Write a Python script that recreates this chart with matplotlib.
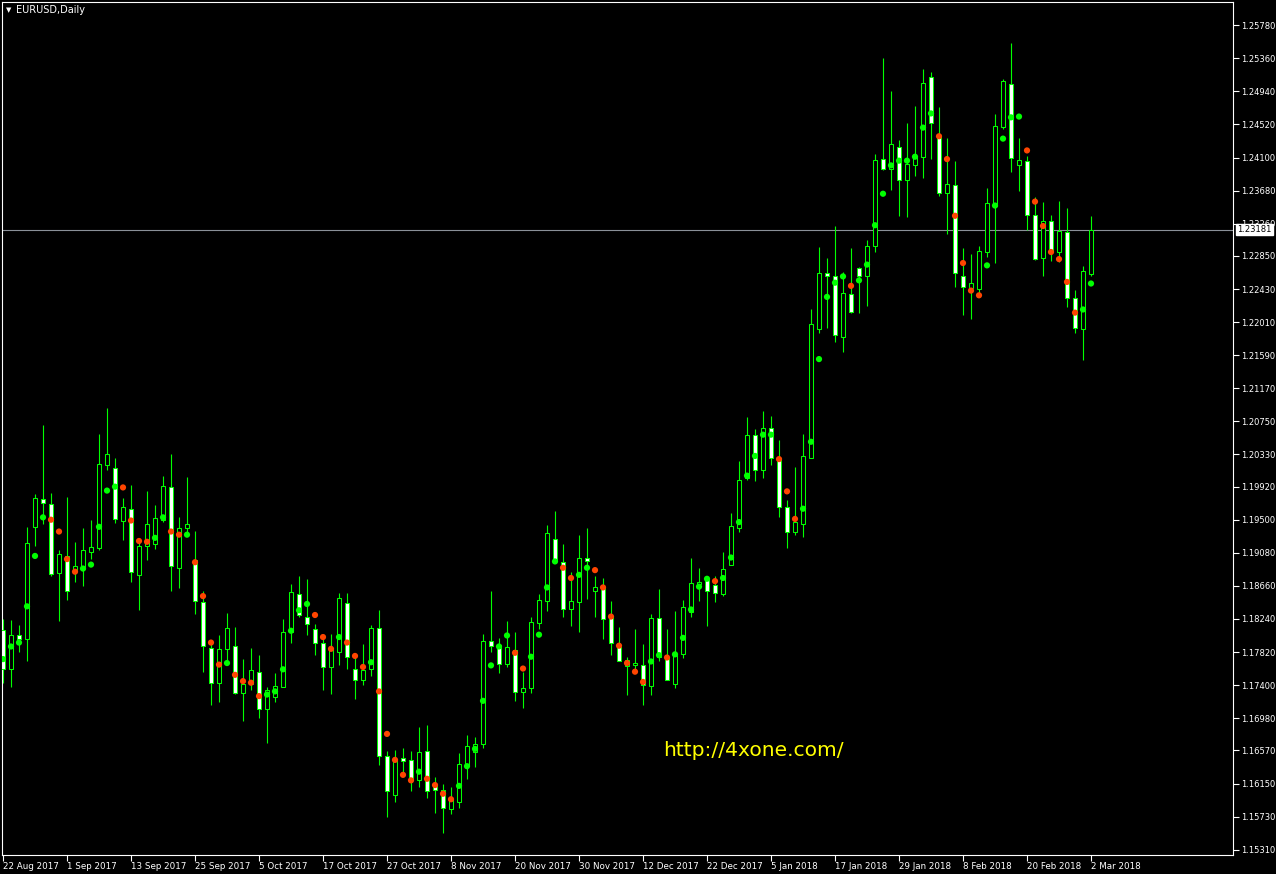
import numpy as np
import pandas as pd
import matplotlib
matplotlib.use("Agg")
import matplotlib.pyplot as plt

# ---------------- data ----------------
symbol_title = "EURUSD,Daily"
watermark = "http://4xone.com/"
last_price = 1.23181
price_ticks = [1.25780, 1.25360, 1.24940, 1.24520, 1.24100, 1.23680, 1.23260,
               1.22850, 1.22430, 1.22010, 1.21590, 1.21170, 1.20750, 1.20330,
               1.19920, 1.19500, 1.19080, 1.18660, 1.18240, 1.17820, 1.17400,
               1.16980, 1.16570, 1.16150, 1.15730, 1.15310]

dates = pd.bdate_range("2017-08-22", "2018-03-02")
dates = dates[~dates.isin(pd.to_datetime(["2017-12-25", "2018-01-01"]))]

opens = [1.1810, 1.1760, 1.1804, 1.1799, 1.1941, 1.1976, 1.1970, 1.1882, 1.1904, 1.1886,
         1.1887, 1.1909, 1.1914, 1.2019, 1.2016, 1.1949, 1.1964, 1.1880, 1.1916, 1.1919,
         1.1950, 1.1991, 1.1889, 1.1939, 1.1899, 1.1845, 1.1787, 1.1743, 1.1786, 1.1789,
         1.1730, 1.1742, 1.1757, 1.1709, 1.1725, 1.1738, 1.1808, 1.1856, 1.1827, 1.1811,
         1.1794, 1.1763, 1.1782, 1.1844, 1.1761, 1.1747, 1.1760, 1.1813, 1.1650, 1.1600,
         1.1648, 1.1645, 1.1619, 1.1656, 1.1612, 1.1607, 1.1583, 1.1592, 1.1637, 1.1655,
         1.1665, 1.1796, 1.1791, 1.1767, 1.1784, 1.1731, 1.1736, 1.1819, 1.1847, 1.1925,
         1.1896, 1.1837, 1.1845, 1.1901, 1.1860, 1.1863, 1.1827, 1.1788, 1.1764, 1.1765,
         1.1766, 1.1739, 1.1825, 1.1774, 1.1741, 1.1780, 1.1833, 1.1868, 1.1876, 1.1867,
         1.1856, 1.1893, 1.1940, 1.2003, 1.2057, 1.2013, 1.2066, 1.2029, 1.1966, 1.1935,
         1.1945, 1.2029, 1.2192, 1.2263, 1.2260, 1.2182, 1.2237, 1.2270, 1.2260, 1.2297,
         1.2408, 1.2395, 1.2423, 1.2381, 1.2401, 1.2411, 1.2512, 1.2437, 1.2365, 1.2375,
         1.2260, 1.2244, 1.2243, 1.2290, 1.2349, 1.2449, 1.2503, 1.2401, 1.2406, 1.2337,
         1.2282, 1.2329, 1.2290, 1.2315, 1.2231, 1.2192, 1.2262]

highs = [1.1824, 1.1823, 1.1816, 1.1941, 1.1983, 1.2070, 1.1984, 1.1911, 1.1979, 1.1922,
         1.1939, 1.1950, 1.2059, 1.2092, 1.2028, 1.1978, 1.1994, 1.1922, 1.1986, 1.1969,
         1.2005, 1.2034, 1.1953, 1.2004, 1.1936, 1.1860, 1.1793, 1.1803, 1.1832, 1.1814,
         1.1773, 1.1787, 1.1778, 1.1738, 1.1755, 1.1824, 1.1868, 1.1878, 1.1875, 1.1818,
         1.1801, 1.1805, 1.1857, 1.1857, 1.1777, 1.1792, 1.1816, 1.1835, 1.1656, 1.1658,
         1.1660, 1.1656, 1.1687, 1.1689, 1.1623, 1.1614, 1.1611, 1.1654, 1.1677, 1.1674,
         1.1805, 1.1859, 1.1800, 1.1821, 1.1807, 1.1756, 1.1826, 1.1856, 1.1943, 1.1961,
         1.1919, 1.1883, 1.1931, 1.1939, 1.1878, 1.1876, 1.1847, 1.1814, 1.1776, 1.1811,
         1.1792, 1.1830, 1.1862, 1.1811, 1.1834, 1.1848, 1.1901, 1.1889, 1.1878, 1.1878,
         1.1909, 1.1958, 1.2025, 1.2080, 1.2065, 1.2088, 1.2082, 1.2051, 1.1975, 1.2017,
         1.2059, 1.2217, 1.2296, 1.2282, 1.2323, 1.2264, 1.2295, 1.2271, 1.2305, 1.2414,
         1.2537, 1.2494, 1.2432, 1.2454, 1.2475, 1.2522, 1.2519, 1.2474, 1.2435, 1.2406,
         1.2295, 1.2287, 1.2298, 1.2371, 1.2465, 1.2510, 1.2556, 1.2435, 1.2412, 1.2360,
         1.2353, 1.2337, 1.2355, 1.2346, 1.2242, 1.2272, 1.2336]

lows = [1.1743, 1.1738, 1.1782, 1.1771, 1.1916, 1.1945, 1.1879, 1.1822, 1.1848, 1.1871,
        1.1866, 1.1900, 1.1911, 1.2013, 1.1946, 1.1924, 1.1871, 1.1835, 1.1899, 1.1913,
        1.1947, 1.1859, 1.1863, 1.1933, 1.1830, 1.1756, 1.1715, 1.1719, 1.1772, 1.1729,
        1.1695, 1.1734, 1.1698, 1.1667, 1.1718, 1.1737, 1.1794, 1.1827, 1.1804, 1.1778,
        1.1734, 1.1729, 1.1765, 1.1760, 1.1722, 1.1740, 1.1751, 1.1638, 1.1573, 1.1592,
        1.1626, 1.1605, 1.1611, 1.1597, 1.1578, 1.1552, 1.1576, 1.1584, 1.1621, 1.1636,
        1.1660, 1.1782, 1.1755, 1.1763, 1.1720, 1.1711, 1.1730, 1.1811, 1.1834, 1.1895,
        1.1826, 1.1815, 1.1808, 1.1849, 1.1827, 1.1798, 1.1778, 1.1770, 1.1727, 1.1761,
        1.1715, 1.1727, 1.1770, 1.1746, 1.1736, 1.1775, 1.1827, 1.1847, 1.1815, 1.1845,
        1.1853, 1.1892, 1.1935, 1.2001, 1.1999, 1.2003, 1.2019, 1.1954, 1.1914, 1.1931,
        1.1928, 1.2028, 1.2187, 1.2194, 1.2176, 1.2163, 1.2213, 1.2213, 1.2221, 1.2290,
        1.2394, 1.2369, 1.2336, 1.2334, 1.2386, 1.2384, 1.2408, 1.2361, 1.2313, 1.2245,
        1.2210, 1.2205, 1.2238, 1.2284, 1.2276, 1.2446, 1.2392, 1.2367, 1.2318, 1.2280,
        1.2259, 1.2279, 1.2277, 1.2220, 1.2187, 1.2153, 1.2259]

closes = [1.1760, 1.1804, 1.1798, 1.1920, 1.1977, 1.1971, 1.1881, 1.1907, 1.1859, 1.1891,
          1.1911, 1.1915, 1.2021, 1.2034, 1.1951, 1.1966, 1.1884, 1.1917, 1.1944, 1.1952,
          1.1993, 1.1891, 1.1939, 1.1945, 1.1847, 1.1790, 1.1743, 1.1786, 1.1812, 1.1730,
          1.1742, 1.1759, 1.1709, 1.1734, 1.1739, 1.1807, 1.1858, 1.1829, 1.1817, 1.1794,
          1.1763, 1.1787, 1.1850, 1.1776, 1.1747, 1.1759, 1.1812, 1.1650, 1.1606, 1.1646,
          1.1644, 1.1619, 1.1655, 1.1606, 1.1607, 1.1584, 1.1595, 1.1640, 1.1663, 1.1665,
          1.1796, 1.1789, 1.1767, 1.1788, 1.1731, 1.1736, 1.1820, 1.1848, 1.1933, 1.1897,
          1.1836, 1.1847, 1.1902, 1.1897, 1.1864, 1.1824, 1.1794, 1.1771, 1.1772, 1.1768,
          1.1740, 1.1825, 1.1776, 1.1747, 1.1779, 1.1839, 1.1870, 1.1871, 1.1860, 1.1857,
          1.1887, 1.1942, 1.2001, 1.2057, 1.2013, 1.2066, 1.2029, 1.1966, 1.1935, 1.1947,
          1.2031, 1.2198, 1.2263, 1.2259, 1.2184, 1.2238, 1.2214, 1.2260, 1.2298, 1.2407,
          1.2396, 1.2427, 1.2381, 1.2402, 1.2412, 1.2505, 1.2454, 1.2365, 1.2376, 1.2263,
          1.2245, 1.2250, 1.2291, 1.2352, 1.2450, 1.2507, 1.2409, 1.2407, 1.2337, 1.2281,
          1.2330, 1.2290, 1.2317, 1.2232, 1.2193, 1.2266, 1.23181]

# indicator dots (value and trend state: g = up, r = down)
dot_values = [1.1773, 1.1789, 1.1794, 1.1840, 1.1904, 1.1953, 1.1950, 1.1935, 1.1900, 1.1884,
              1.1888, 1.1893, 1.1941, 1.1987, 1.1992, 1.1991, 1.1949, 1.1923, 1.1922, 1.1927,
              1.1953, 1.1935, 1.1931, 1.1931, 1.1896, 1.1853, 1.1794, 1.1766, 1.1768, 1.1753,
              1.1745, 1.1743, 1.1726, 1.1728, 1.1732, 1.1760, 1.1809, 1.1835, 1.1843, 1.1829,
              1.1801, 1.1786, 1.1801, 1.1794, 1.1777, 1.1763, 1.1769, 1.1732, 1.1678, 1.1645,
              1.1626, 1.1619, 1.1630, 1.1621, 1.1613, 1.1602, 1.1595, 1.1612, 1.1637, 1.1659,
              1.1720, 1.1765, 1.1789, 1.1803, 1.1781, 1.1761, 1.1776, 1.1804, 1.1864, 1.1897,
              1.1889, 1.1876, 1.1880, 1.1889, 1.1886, 1.1864, 1.1827, 1.1790, 1.1768, 1.1757,
              1.1744, 1.1770, 1.1778, 1.1775, 1.1779, 1.1800, 1.1836, 1.1865, 1.1875, 1.1872,
              1.1876, 1.1902, 1.1947, 1.2006, 1.2031, 1.2058, 1.2058, 1.2027, 1.1986, 1.1951,
              1.1964, 1.2049, 1.2154, 1.2233, 1.2251, 1.2259, 1.2247, 1.2254, 1.2274, 1.2324,
              1.2364, 1.2400, 1.2406, 1.2406, 1.2411, 1.2448, 1.2466, 1.2437, 1.2408, 1.2336,
              1.2276, 1.2241, 1.2235, 1.2273, 1.2349, 1.2434, 1.2461, 1.2462, 1.2419, 1.2354,
              1.2323, 1.2290, 1.2281, 1.2252, 1.2213, 1.2217, 1.2250]

dot_states = list("gggggg" "rrrr" "ggggg" "rrrr" "gg" "rr" "g" "rrrr" "g" "rrrr"
                  "gggggg" "rrr" "g" "rrr" "g" "rrrrr" "g" "rrrr" "ggggggg" "rr"
                  "gggg" "rr" "gg" "rrrrrrr" "gg" "r" "ggggg" "r" "ggggggg" "rrr"
                  "gggggg" "r" "gggggggggg" "rrrrrr" "ggggg" "rrrrrrr" "gg")

# ---------------- styling ----------------
BG = "black"
CANDLE = "#00ff00"
UP_DOT = "#00ff00"
DOWN_DOT = "#ff4500"

n = len(opens)
idx = np.arange(n)
o = np.array(opens); h = np.array(highs); l = np.array(lows); c = np.array(closes)

W, H = 1276, 874
fig = plt.figure(figsize=(W / 100, H / 100), dpi=100, facecolor=BG)
ax = fig.add_axes([2 / W, 19 / H, 1231 / W, 853 / H])
ax.set_facecolor(BG)
ax.set_xlim(-0.125, 153.75)
ax.set_ylim(1.15242, 1.26075)

# wicks
ax.vlines(idx, l, h, color=CANDLE, lw=0.8, zorder=2)
# bodies
bull = c >= o
body_bottom = np.minimum(o, c)
body_height = np.maximum(np.abs(c - o), 0.00002)
face = np.where(bull, "black", "white")
ax.bar(idx, body_height, bottom=body_bottom, width=0.55, color=face,
       edgecolor=CANDLE, linewidth=0.75, zorder=3)

# dots
dot_cols = [UP_DOT if s == "g" else DOWN_DOT for s in dot_states[:n]]
ax.scatter(idx[:len(dot_cols)], dot_values[:len(dot_cols)], s=20, c=dot_cols,
           linewidths=0, zorder=4)

# current price line
ax.axhline(last_price, color="#8a9098", lw=0.8, zorder=1)

# spines
for sp in ax.spines.values():
    sp.set_color("white")
    sp.set_linewidth(0.8)

# price axis
ax.yaxis.tick_right()
ax.set_yticks(price_ticks)
ax.set_yticklabels([f"{p:.5f}" for p in price_ticks])
ax.tick_params(axis="y", colors="white", labelcolor="white", labelsize=6,
               length=4, width=0.8, direction="out", pad=2)

# date axis
tick_pos = idx[::8]
tick_labels = [f"{d.day} {d.strftime('%b %Y')}" for d in dates[::8]]
ax.set_xticks(tick_pos)
ax.set_xticklabels(tick_labels, ha="left")
ax.tick_params(axis="x", colors="white", labelcolor="white", labelsize=6.3,
               length=4, width=0.8, direction="out", pad=1)

# current price box
ax.text(1.0035, last_price, f"{last_price:.5f}", transform=ax.get_yaxis_transform(),
        ha="left", va="center", fontsize=6, color="black", zorder=10, clip_on=False,
        bbox=dict(boxstyle="square,pad=0.12", facecolor="white", edgecolor="white"))

# title with triangle
fig.text(9 / W, 1 - 10 / H, "\u25BC", color="white", fontsize=5, ha="center", va="center")
fig.text(16 / W, 1 - 10 / H, symbol_title, color="white", fontsize=7, ha="left", va="center")

# watermark
fig.text(663 / W, 1 - 756 / H, watermark, color="#ffff00", fontsize=14.6,
         ha="left", va="baseline")

fig.savefig("out.png", dpi=100, facecolor=BG)
